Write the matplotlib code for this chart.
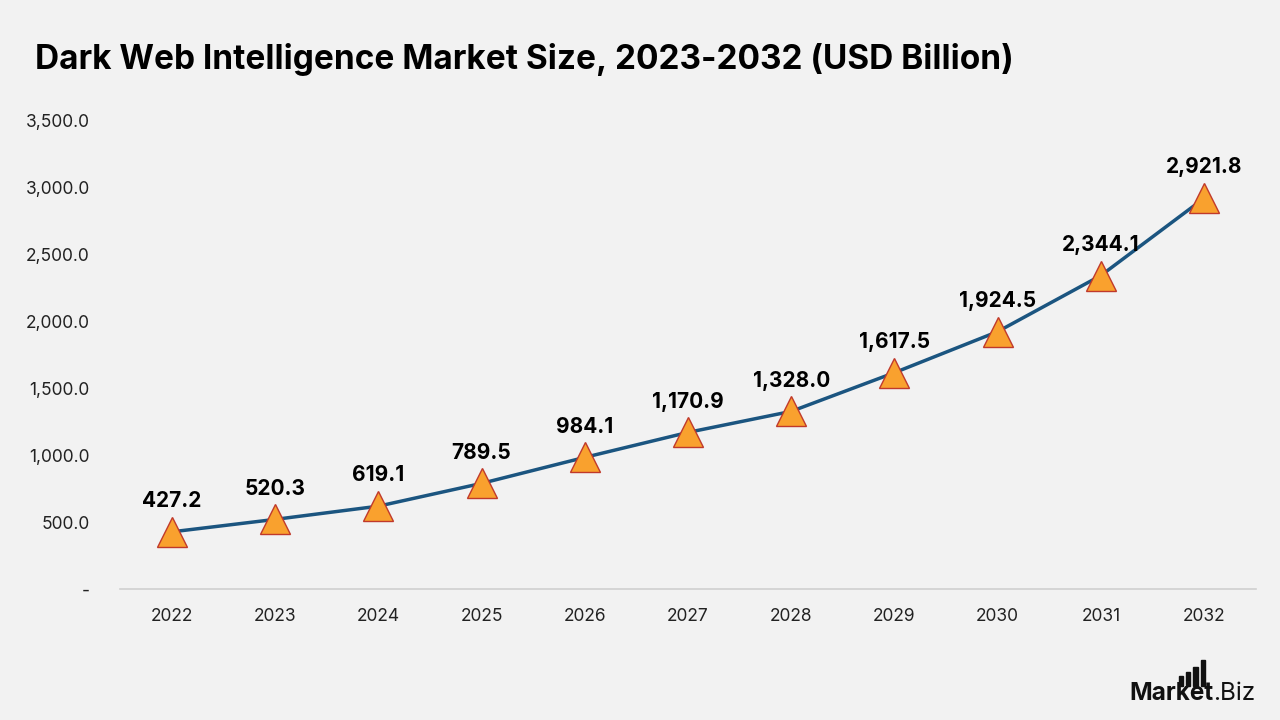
import matplotlib.pyplot as plt
import matplotlib.patches as mpatches

# Market data (USD Billion)
years = ["2022", "2023", "2024", "2025", "2026", "2027", "2028", "2029", "2030", "2031", "2032"]
market_size = [427.2, 520.3, 619.1, 789.5, 984.1, 1170.9, 1328.0, 1617.5, 1924.5, 2344.1, 2921.8]
y_ticks = [0, 500, 1000, 1500, 2000, 2500, 3000, 3500]

bg = "#f2f2f2"
line_blue = "#1b5580"
marker_orange = "#f9a12e"
marker_edge = "#c0392b"
text_dark = "#222222"

plt.rcParams['font.family'] = ['Inter', 'DejaVu Sans']

fig = plt.figure(figsize=(12.8, 7.2), dpi=100)
fig.patch.set_facecolor(bg)
ax = fig.add_axes([0.094, 0.182, 0.887, 0.650])
ax.set_facecolor(bg)

x = list(range(len(years)))
ax.plot(x, market_size, color=line_blue, linewidth=2.5, zorder=2)
ax.plot(x, market_size, linestyle='none', marker='^', markersize=21,
        markerfacecolor=marker_orange, markeredgecolor=marker_edge,
        markeredgewidth=1.0, zorder=3)

# Value labels
for xi, val in zip(x, market_size):
    ax.annotate(f"{val:,.1f}", (xi, val), xytext=(0, 15), textcoords='offset points',
                ha='center', va='bottom', fontsize=15, fontweight='bold', color='black')

ax.set_xlim(-0.5, len(years) - 0.5)
ax.set_ylim(0, 3500)
ax.set_xticks(x)
ax.set_xticklabels(years)
ax.set_yticks(y_ticks)
ax.set_yticklabels(["-"] + [f"{v:,.1f}" for v in y_ticks[1:]])
ax.tick_params(axis='both', length=0, labelsize=12.5, colors=text_dark)
ax.tick_params(axis='x', pad=14)
ax.tick_params(axis='y', pad=22)

for side in ['top', 'right', 'left']:
    ax.spines[side].set_visible(False)
ax.spines['bottom'].set_color('#d0d0d0')
ax.spines['bottom'].set_linewidth(1.2)

# Title
fig.text(0.027, 0.918, "Dark Web Intelligence Market Size, 2023-2032 (USD Billion)",
         fontsize=24, fontweight='bold', color='black', ha='left', va='center')

# Logo: "Market" bold + ".Biz" regular, small bars above
renderer = fig.canvas.get_renderer()
t1 = fig.text(0.882, 0.028, "Market", fontsize=17.5, fontweight='bold', color='#111111',
              ha='left', va='baseline')
bb = t1.get_window_extent(renderer).transformed(fig.transFigure.inverted())
fig.text(bb.x1, 0.028, ".Biz", fontsize=17.5, color='#111111', ha='left', va='baseline')
bar_x0 = bb.x1 - 0.027
for i, h in enumerate([0.014, 0.020, 0.026, 0.036]):
    fig.patches.append(mpatches.Rectangle((bar_x0 + i * 0.0058, bb.y1 - 0.006), 0.0034, h,
                                          transform=fig.transFigure, color='#111111'))

fig.savefig("out.png", dpi=100, facecolor=bg)
